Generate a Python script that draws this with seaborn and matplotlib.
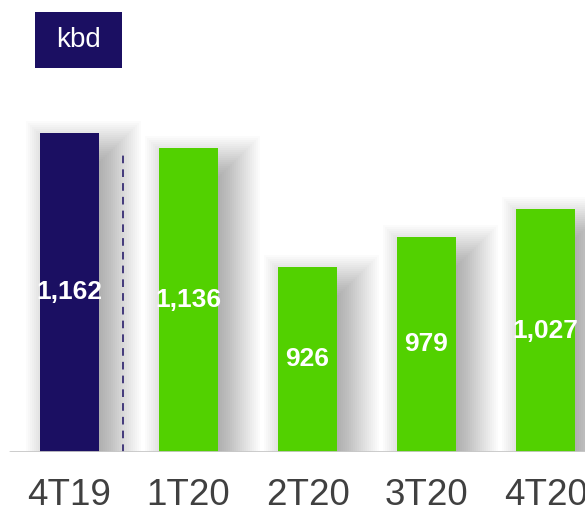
import matplotlib
matplotlib.use("Agg")
import matplotlib.pyplot as plt
import seaborn as sns
from matplotlib.patches import Rectangle

categories = ["4T19", "1T20", "2T20", "3T20", "4T20"]
values = [1162, 1136, 926, 979, 1027]
value_labels = ["1,162", "1,136", "926", "979", "1,027"]
unit_label = "kbd"

NAVY = "#1b0f62"
GREEN = "#52d100"
colors = [NAVY, GREEN, GREEN, GREEN, GREEN]

sns.set_theme(style="white")
plt.rcParams['font.family'] = ['Liberation Sans', 'DejaVu Sans']

W, H = 585, 512
fig = plt.figure(figsize=(W / 100, H / 100), dpi=100)
base_px = 452
ax = fig.add_axes([0, (H - base_px) / H, 1, base_px / H])

y0 = 600
px_per_val = 0.568
px_per_cat = 119
xmin = -69.5 / px_per_cat
xmax = (W - 69.5) / px_per_cat
ymax = y0 + base_px / px_per_val

sns.barplot(x=categories, y=values, hue=categories, palette=colors,
            width=0.5, legend=False, ax=ax, saturation=1, zorder=3,
            linewidth=0, edgecolor="none")
ax.set_xlim(xmin, xmax)
ax.set_ylim(y0, ymax)

bars = ax.patches[:len(values)]

# soft drop shadows (stacked translucent rectangles)
dx_px, dy_px, R, step = 14, 16, 28, 2
for bar in bars:
    bx, bw, bh = bar.get_x(), bar.get_width(), bar.get_height()
    top = bh
    for e_px in range(-R, R + 1, step):
        ex = e_px / px_per_cat
        ey = e_px / px_per_val
        left = bx + dx_px / px_per_cat - ex
        width = bw + 2 * ex
        rtop = top - dy_px / px_per_val + ey
        if width <= 0:
            continue
        ax.add_patch(Rectangle((left, y0 - 50), width, rtop - (y0 - 50),
                               facecolor="black", alpha=0.017,
                               edgecolor="none", zorder=1))

# value labels clipped to bars
for i, bar in enumerate(bars):
    cx = bar.get_x() + bar.get_width() / 2
    cy = (y0 + values[i]) / 2
    t = ax.text(cx, cy, value_labels[i], ha="center", va="center",
                color="white", fontsize=19, fontweight="bold", zorder=5)
    t.set_clip_path(bar)

# dashed separator
sep_x = (123 - 69.5) / px_per_cat
ax.plot([sep_x, sep_x], [y0, y0 + (base_px - 152) / px_per_val],
        color=NAVY, lw=1.1, ls=(0, (5, 4)), zorder=4)

# baseline
ax.axhline(y0, xmin=10 / W, xmax=1, color="#c8c8c8", lw=2, zorder=6)

for s in ax.spines.values():
    s.set_visible(False)
ax.set_yticks([])
ax.set_xlabel("")
ax.set_ylabel("")
ax.tick_params(axis="x", length=0, pad=19, labelsize=26.5, labelcolor="#404040")

# unit box
bx0, bx1, by0, by1 = 35, 122, 12, 68
fig.patches.append(Rectangle((bx0 / W, 1 - by1 / H), (bx1 - bx0) / W,
                             (by1 - by0) / H, transform=fig.transFigure,
                             facecolor=NAVY, edgecolor="none", zorder=10))
fig.text((bx0 + bx1) / 2 / W, 1 - (by0 + by1) / 2 / H, unit_label,
         ha="center", va="center", color="white", fontsize=20, zorder=11)

fig.savefig("out.png", dpi=100)
